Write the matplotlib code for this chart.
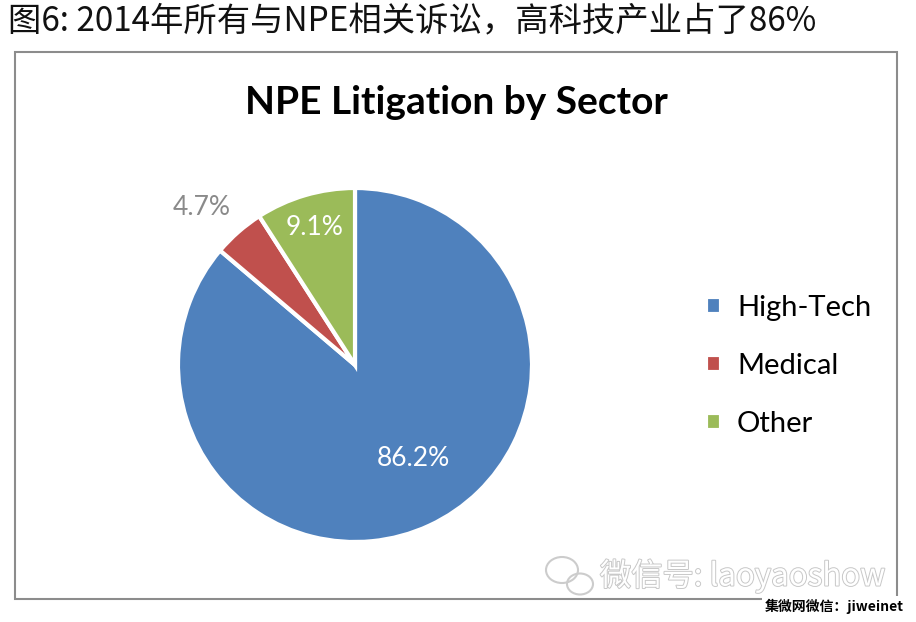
import matplotlib
matplotlib.use('Agg')
import matplotlib.pyplot as plt
import matplotlib.patheffects as pe
from matplotlib.patches import Rectangle, Ellipse
import numpy as np

# data
sectors = ['High-Tech', 'Medical', 'Other']
shares = [86.2, 4.7, 9.1]
colors = ['#4F81BD', '#C0504D', '#9BBB59']

page_title = '图6: 2014年所有与NPE相关诉讼，高科技产业占了86%'
chart_title = 'NPE Litigation by Sector'

W, H = 916, 622
fig = plt.figure(figsize=(W / 100, H / 100), dpi=100)
fig.patch.set_facecolor('white')

def fx(px):
    return px / W

def fy(py):
    return 1 - py / H

# chart frame
fig.patches.append(Rectangle((fx(15), fy(599)), fx(897) - fx(15), fy(52) - fy(599),
                             transform=fig.transFigure, fill=False,
                             edgecolor='#8c8c8c', linewidth=1.5, zorder=0))

# pie axes: radius 177 px centred on (355, 365)
cx, cy, r = 355, 365, 177
ax = fig.add_axes([fx(cx - r), fy(cy + r), (2 * r) / W, (2 * r) / H])
wedges, _ = ax.pie(shares, colors=colors, startangle=90, counterclock=False,
                   wedgeprops=dict(edgecolor='white', linewidth=3))
ax.set_xlim(-1, 1)
ax.set_ylim(-1, 1)
ax.set_aspect('equal')

# value labels
label_dist = [0.62, 1.24, 0.81]
label_shift = [7, 3, 0]   # degrees
label_color = ['white', '#8a8a8a', 'white']
for w, v, d, s, c in zip(wedges, shares, label_dist, label_shift, label_color):
    ang = np.deg2rad((w.theta1 + w.theta2) / 2 + s)
    ax.text(d * np.cos(ang), d * np.sin(ang), f'{v:.1f}%', ha='center', va='center',
            color=c, fontsize=19, family=['Lato', 'DejaVu Sans'])

leg = fig.legend(wedges, sectors, loc='center left', bbox_to_anchor=(fx(680), fy(366)),
                 frameon=False, prop=dict(family='Lato', size=21),
                 handlelength=0.5, handleheight=0.5, handletextpad=0.55,
                 labelspacing=1.1)

fig.text(fx(456), fy(102), chart_title, ha='center', va='center',
         fontsize=28, fontweight='bold', family=['Lato', 'DejaVu Sans'])

fig.text(fx(8), fy(22), page_title, ha='left', va='center', fontsize=24,
         family=['Noto Sans CJK SC', 'DejaVu Sans'], color='#111111')

# watermark
fig.text(fx(600), fy(576), '微信号: laoyaoshow', ha='left', va='center', fontsize=22.5,
         family=['Noto Sans CJK SC', 'DejaVu Sans'], fontweight='light', color='white',
         path_effects=[pe.withStroke(linewidth=1.4, foreground='#c8c8c8')])
for (ex, ey, ew, eh) in [(562, 570, 32, 26), (580, 584, 26, 21)]:
    fig.patches.append(Ellipse((fx(ex), fy(ey)), ew / W, eh / H, transform=fig.transFigure,
                               fill=False, edgecolor='#cccccc', linewidth=1.5))

fig.text(fx(904), fy(606), '集微网微信：jiweinet', ha='right', va='center', fontsize=10,
         family=['Noto Sans CJK SC', 'DejaVu Sans'], fontweight='bold',
         bbox=dict(facecolor='white', edgecolor='none', pad=2))

fig.savefig('out.png', dpi=100, facecolor='white')
